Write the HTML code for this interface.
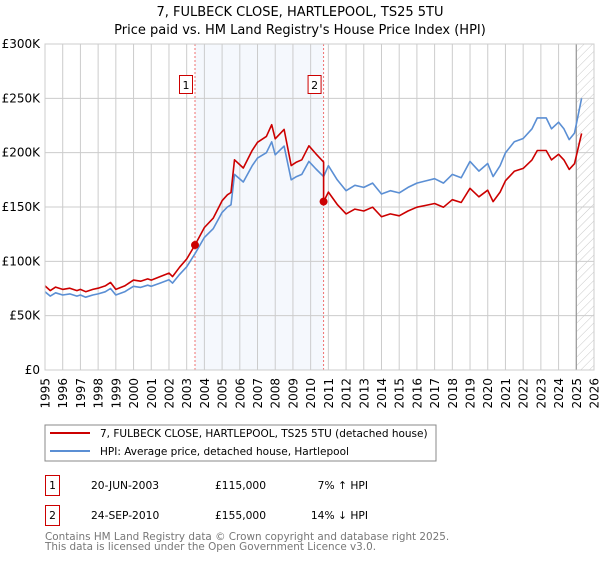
<!DOCTYPE html>
<html><head><meta charset="utf-8">
<style>
body{margin:0;background:#fff;font-family:"DejaVu Sans","Liberation Sans",sans-serif;}
svg text{font-family:"DejaVu Sans","Liberation Sans",sans-serif;}
</style></head>
<body>
<svg id="chart" width="600" height="560" viewBox="0 0 600 560" xmlns="http://www.w3.org/2000/svg">
<defs>
<pattern id="hatch" patternUnits="userSpaceOnUse" width="6" height="6" patternTransform="rotate(45)">
<line x1="0" y1="0" x2="0" y2="6" stroke="#bbb" stroke-width="0.8"/>
</pattern>
</defs>
<text x="300" y="16" text-anchor="middle" font-size="13" fill="#000">7, FULBECK CLOSE, HARTLEPOOL, TS25 5TU</text>
<text x="300" y="34" text-anchor="middle" font-size="13" fill="#000">Price paid vs. HM Land Registry's House Price Index (HPI)</text>
<g id="plot"></g>
<rect x="45" y="425" width="391" height="36" fill="#fff" stroke="#888"/>
<line x1="50" y1="433" x2="90" y2="433" stroke="#cc0000" stroke-width="2"/>
<text x="100" y="437" font-size="10.5">7, FULBECK CLOSE, HARTLEPOOL, TS25 5TU (detached house)</text>
<line x1="50" y1="451" x2="90" y2="451" stroke="#5b8fd4" stroke-width="2"/>
<text x="100" y="455" font-size="10.5">HPI: Average price, detached house, Hartlepool</text>
<g font-size="10.7">
<rect x="45.5" y="475.5" width="14" height="20" fill="#fff" stroke="#cc0000"/>
<text x="52.5" y="489" text-anchor="middle">1</text>
<text x="91" y="489">20-JUN-2003</text>
<text x="215" y="489">£115,000</text>
<text x="368" y="489" text-anchor="end">7% ↑ HPI</text>
<rect x="45.5" y="505.5" width="14" height="20" fill="#fff" stroke="#cc0000"/>
<text x="52.5" y="519" text-anchor="middle">2</text>
<text x="91" y="519">24-SEP-2010</text>
<text x="215" y="519">£155,000</text>
<text x="368" y="519" text-anchor="end">14% ↓ HPI</text>
</g>
<text x="45" y="540" font-size="10.4" fill="#777">Contains HM Land Registry data © Crown copyright and database right 2025.</text>
<text x="45" y="550" font-size="10.4" fill="#777">This data is licensed under the Open Government Licence v3.0.</text>
</svg>
<script>
const hpiYears = [1995,1995.3,1995.6,1996,1996.4,1996.8,1997,1997.3,1997.7,1998,1998.4,1998.7,1999,1999.5,2000,2000.4,2000.8,2001,2001.5,2002,2002.2,2002.6,2003,2003.47,2004,2004.5,2005,2005.3,2005.5,2005.7,2006.2,2006.7,2007,2007.5,2007.8,2008,2008.5,2008.9,2009.2,2009.5,2009.9,2010.3,2010.73,2011,2011.5,2012,2012.5,2013,2013.5,2014,2014.5,2015,2015.5,2016,2016.5,2017,2017.5,2018,2018.5,2019,2019.5,2020,2020.3,2020.7,2021,2021.5,2022,2022.5,2022.8,2023.3,2023.6,2024,2024.3,2024.6,2024.9,2025.3];
const hpiValues = [72,68,71,69,70,68,69,67,69,70,72,75,69,72,77,76,78,77,80,83,80,88,95,107,122,130,145,150,152,180,173,188,195,200,210,198,206,175,178,180,192,185,178,188,175,165,170,168,172,162,165,163,168,172,174,176,172,180,177,192,183,190,178,188,200,210,213,222,232,232,222,228,222,212,218,250];
const saleYears = [2003.47,2010.73];
const salePrices = [115,155];
const yTicks = [0,50,100,150,200,250,300];
const yTickLabels = ["£0","£50K","£100K","£150K","£200K","£250K","£300K"];
const xTicks = [1995,1996,1997,1998,1999,2000,2001,2002,2003,2004,2005,2006,2007,2008,2009,2010,2011,2012,2013,2014,2015,2016,2017,2018,2019,2020,2021,2022,2023,2024,2025,2026];

const NS="http://www.w3.org/2000/svg";
const X0=45,X1=594,Y0=370,Y1=44;
const xs=y=>X0+(y-1995)/(2026-1995)*(X1-X0);
const ys=v=>Y0-v/300*(Y0-Y1);
const g=document.getElementById('plot');
function mk(t,a){const e=document.createElementNS(NS,t);for(const k in a)e.setAttribute(k,a[k]);g.appendChild(e);return e;}

let e;
e=mk('rect',{x:xs(saleYears[0]),y:Y1,width:xs(saleYears[1])-xs(saleYears[0]),height:Y0-Y1,fill:'#eef3fc',opacity:0.6});


e=mk('rect',{x:xs(2025.0),y:Y1,width:X1-xs(2025.0),height:Y0-Y1,fill:'url(#hatch)'});


yTicks.forEach((v,i)=>{
 e=mk('line',{x1:X0,x2:X1,y1:ys(v),y2:ys(v),stroke:'#ccc','stroke-width':1});
 
 
 e=mk('text',{x:40,y:ys(v)+4,'text-anchor':'end','font-size':'12'});e.textContent=yTickLabels[i];
 
 
});
xTicks.forEach(yr=>{
 e=mk('line',{x1:xs(yr),x2:xs(yr),y1:Y1,y2:Y0,stroke:'#ccc','stroke-width':1});
 
 
 e=mk('text',{x:0,y:0,'text-anchor':'end','font-size':'12',transform:`translate(${xs(yr)+4.5},${Y0+8}) rotate(-90)`});e.textContent=yr;
 
 
});
e=mk('line',{x1:xs(2025.0),x2:xs(2025.0),y1:Y1,y2:Y0,stroke:'#999','stroke-width':1.2});


saleYears.forEach((sy,i)=>{
 e=mk('line',{x1:xs(sy),x2:xs(sy),y1:Y1,y2:Y0,stroke:'#f07070','stroke-width':1,'stroke-dasharray':'2,2'});
 
 
 e=mk('rect',{x:xs(sy)-15.5,y:75.5,width:13,height:18,fill:'#fff',stroke:'#cc0000'});
 
 
 e=mk('text',{x:xs(sy)-9,y:89,'text-anchor':'middle','font-size':'11'});e.textContent=String(i+1);
 
 
});
let d=hpiYears.map((yr,i)=>(i?'L':'M')+xs(yr).toFixed(1)+','+ys(hpiValues[i]).toFixed(1)).join(' ');
e=mk('path',{d:d,fill:'none',stroke:'#5b8fd4','stroke-width':1.6,'stroke-linejoin':'round'});


function hpiAt(t){for(let i=1;i<hpiYears.length;i++){if(t<=hpiYears[i]){const f=(t-hpiYears[i-1])/(hpiYears[i]-hpiYears[i-1]);return hpiValues[i-1]+f*(hpiValues[i]-hpiValues[i-1]);}}return hpiValues[hpiValues.length-1];}
const r1=salePrices[0]/hpiAt(saleYears[0]), r2=salePrices[1]/hpiAt(saleYears[1]);
let pts=[];
hpiYears.forEach((yr,i)=>{
 if(yr<saleYears[1]) pts.push([yr,hpiValues[i]*r1]);
 else { if(yr===saleYears[1]){pts.push([yr,hpiValues[i]*r1]);} pts.push([yr,hpiValues[i]*r2]); }
});
d=pts.map((p,i)=>(i?'L':'M')+xs(p[0]).toFixed(1)+','+ys(p[1]).toFixed(1)).join(' ');
e=mk('path',{d:d,fill:'none',stroke:'#cc0000','stroke-width':1.6,'stroke-linejoin':'round'});


saleYears.forEach((sy,i)=>{
 e=mk('circle',{cx:xs(sy),cy:ys(salePrices[i]),r:4,fill:'#cc0000'});
 
 
});
e=mk('rect',{x:X0,y:Y1,width:X1-X0,height:Y0-Y1,fill:'none',stroke:'#ccc'});


</script>
</body></html>
